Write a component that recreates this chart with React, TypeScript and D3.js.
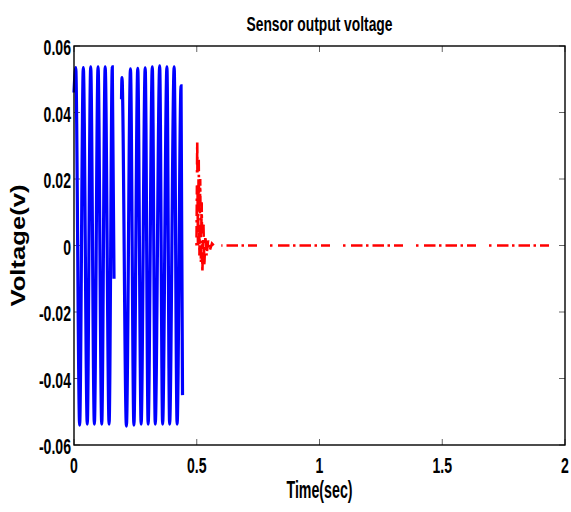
import React, { useEffect, useRef } from 'react'
import * as d3 from 'd3'

const width = 571
const height = 512
const margin = { top: 46, right: 6, bottom: 67, left: 74 }

// axis ticks
const xTicks = [0, 0.5, 1, 1.5, 2]
const xTickLabels = ['0', '0.5', '1', '1.5', '2']
const yTicks = [-0.06, -0.04, -0.02, 0, 0.02, 0.04, 0.06]
const yTickLabels = ['-0.06', '-0.04', '-0.02', '0', '0.02', '0.04', '0.06']

// blue burst 1 (peaks / troughs)
const blueTime1 = [0.0, 0.007, 0.023, 0.038, 0.054, 0.068, 0.083, 0.098, 0.113, 0.127, 0.143, 0.156, 0.163]
const blueVolt1 = [0.046, 0.0535, -0.054, 0.0535, -0.0537, 0.0537, -0.0537, 0.0537, -0.0537, 0.0537, -0.0537, 0.0537, -0.01]

// blue burst 2
const blueTime2 = [0.1935, 0.1955, 0.2135, 0.23, 0.244, 0.2597, 0.2735, 0.29, 0.302, 0.319, 0.331, 0.349, 0.361, 0.3785, 0.3895, 0.408, 0.42, 0.436, 0.442]
const blueVolt2 = [0.044, 0.0505, -0.0543, 0.0531, -0.054, 0.0533, -0.0537, 0.0534, -0.0537, 0.0537, -0.0537, 0.054, -0.0537, 0.0537, -0.0537, 0.0537, -0.0537, 0.048, -0.045]

// red decaying response
const redTime = [0.499, 0.502, 0.505, 0.508, 0.511, 0.514, 0.517, 0.52, 0.523, 0.527, 0.531, 0.535, 0.54, 0.546, 0.553, 0.562, 0.575, 0.6, 1.0, 1.5, 1.94]
const redVolt = [0.0, 0.031, -0.001, 0.026, -0.003, 0.02, -0.005, 0.013, -0.008, 0.007, -0.006, 0.003, -0.003, 0.0015, -0.0015, 0.0006, -0.0004, 0.0, 0.0, 0.0, 0.0]

const redSplit = 0.6
const redDash = [2.5, 5.5, 11.5, 3.5, 2.5, 4, 11.5, 3.5, 2.5, 4, 9, 13]
const dashStartX = 197

const fontFamily = '"Liberation Sans", Arial, sans-serif'
const squeeze = 0.64

export default function App () {
  const ref = useRef<SVGSVGElement>(null)

  useEffect(() => {
    const svg = d3.select(ref.current)
    svg.selectAll('*').remove()

    const x = d3.scaleLinear().domain([0, 2]).range([margin.left, width - margin.right])
    const y = d3.scaleLinear().domain([-0.06, 0.06]).range([height - margin.bottom, margin.top])

    const x0 = margin.left
    const x1 = width - margin.right
    const y0 = height - margin.bottom
    const y1 = margin.top

    // ticks on all four sides, pointing inward
    const tickLen = 6
    const ticks = svg.append('g').attr('stroke', '#666').attr('stroke-width', 1)
    xTicks.forEach(t => {
      ticks.append('line').attr('x1', x(t)).attr('x2', x(t)).attr('y1', y0).attr('y2', y0 - tickLen)
      ticks.append('line').attr('x1', x(t)).attr('x2', x(t)).attr('y1', y1).attr('y2', y1 + tickLen)
    })
    yTicks.forEach(v => {
      ticks.append('line').attr('x1', x0).attr('x2', x0 + tickLen).attr('y1', y(v)).attr('y2', y(v))
      ticks.append('line').attr('x1', x1).attr('x2', x1 - tickLen).attr('y1', y(v)).attr('y2', y(v))
    })

    // blue bursts
    const drawBlue = (ts: number[], vs: number[]) => {
      const pts: [number, number][] = ts.map((t, i) => [x(t), y(vs[i])])
      svg.append('path')
        .attr('d', d3.line().curve(d3.curveMonotoneX)(pts))
        .attr('fill', 'none')
        .attr('stroke', '#0000ff')
        .attr('stroke-width', 3.2)
    }
    drawBlue(blueTime1, blueVolt1)
    drawBlue(blueTime2, blueVolt2)

    // red dash-dot
    const redPts: [number, number][] = redTime.map((t, i) => [x(t), y(redVolt[i])])
    const redHead = redPts.filter((p, i) => redTime[i] <= redSplit)
    const redTail = redPts.filter((p, i) => redTime[i] >= redSplit)
    const line = d3.line()
    svg.append('path')
      .attr('d', line(redHead))
      .attr('fill', 'none')
      .attr('stroke', '#ff0000')
      .attr('stroke-width', 2.6)
      .attr('stroke-dasharray', redDash.join(' '))
    svg.append('path')
      .attr('d', line(redTail))
      .attr('fill', 'none')
      .attr('stroke', '#ff0000')
      .attr('stroke-width', 2.6)
      .attr('stroke-dasharray', redDash.join(' '))
      .attr('stroke-dashoffset', x(redSplit) - dashStartX)

    // box
    svg.append('rect')
      .attr('x', x0).attr('y', y1)
      .attr('width', x1 - x0).attr('height', y0 - y1)
      .attr('fill', 'none')
      .attr('stroke', '#000')
      .attr('stroke-width', 1.4)

    // tick labels
    const labelStyle = (sel: any) => sel
      .attr('font-family', fontFamily)
      .attr('font-weight', 'bold')
      .attr('font-size', 22)
      .attr('fill', '#000')

    xTicks.forEach((t, i) => {
      svg.append('text')
        .call(labelStyle)
        .attr('transform', `translate(${x(t)},${y0 + 28}) scale(${squeeze},1)`)
        .attr('text-anchor', 'middle')
        .text(xTickLabels[i])
    })
    yTicks.forEach((v, i) => {
      svg.append('text')
        .call(labelStyle)
        .attr('transform', `translate(${x0 - 3},${y(v) + 9}) scale(${squeeze},1)`)
        .attr('text-anchor', 'end')
        .text(yTickLabels[i])
    })

    // titles
    svg.append('text')
      .call(labelStyle)
      .attr('font-size', 21)
      .attr('x', (x0 + x1) / 2)
      .attr('y', 31)
      .attr('text-anchor', 'middle')
      .attr('textLength', 146)
      .attr('lengthAdjust', 'spacingAndGlyphs')
      .text('Sensor output voltage')

    svg.append('text')
      .call(labelStyle)
      .attr('font-size', 23)
      .attr('x', (x0 + x1) / 2)
      .attr('y', 498)
      .attr('text-anchor', 'middle')
      .attr('textLength', 66)
      .attr('lengthAdjust', 'spacingAndGlyphs')
      .text('Time(sec)')

    svg.append('text')
      .call(labelStyle)
      .attr('font-size', 20)
      .attr('transform', `translate(25,${(y0 + y1) / 2}) rotate(-90)`)
      .attr('text-anchor', 'middle')
      .attr('textLength', 122)
      .attr('lengthAdjust', 'spacingAndGlyphs')
      .text('Voltage(v)')
  }, [])

  return (
    <svg
      ref={ref}
      width={width}
      height={height}
      style={{ position: 'absolute', left: 0, top: 0, background: '#fff' }}
    />
  )
}
